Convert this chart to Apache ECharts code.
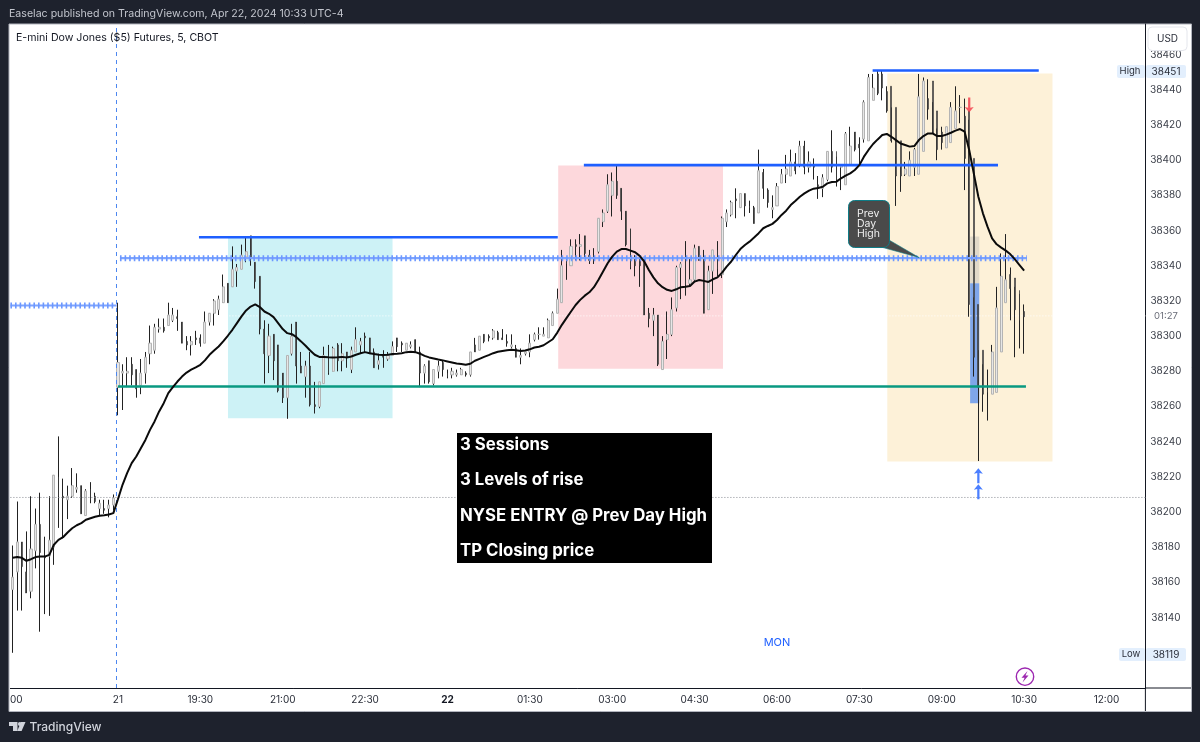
<!DOCTYPE html>
<html><head><meta charset="utf-8">
<style>html,body{margin:0;padding:0;background:#1e222d}#c{width:1200px;height:742px}</style>
<script src="https://cdn.jsdelivr.net/npm/echarts@6/dist/echarts.min.js"></script>
</head><body><div id="c"></div>
<script>
const tickLabels=["21","19:30","21:00","22:30","22","01:30","03:00","04:30","06:00","07:30","09:00","10:30","12:00"];
const opens=[38156,38166,38183,38166,38155,38178,38193,38175,38175,38180,38220,38209,38207,38209,38213,38215,38198,38213,38209,38202,38202,38202,38204,
38271,38279,38279,38284,38281,38272,38279,38290,38292,38304,38305,38306,38309,38311,38308,38297,38295,38299,38299,38296,38308,38313,38315,38319,38330,38328,38337,38338,38345,38357,38342,38334,
38304,38289,38301,38295,38279,38265,38290,38308,38283,38277,38283,38261,38260,38273,38289,38280,38295,38286,38291,38281,38291,38295,38300,38299,38291,38284,38289,38287,38289,38299,38296,38292,38294,38298,38291,38279,38286,38273,38280,38285,38279,38278,38278,38278,38279,38278,38295,38292,38301,38300,38299,38302,38299,38297,38294,38293,
38288,38290,38291,38298,38301,38300,38299,38306,38313,38319,38345,38340,38352,38351,38357,38346,38345,38348,38365,38371,38380,38388,38384,38371,38361,38345,38344,38345,38313,38309,38312,38281,38298,38301,38316,38339,38343,38330,38332,38351,38345,38315,38337,38349,38335,38365,38369,38378,38373,38381,38374,38373,38370,38393,38383,38372,38374,38387,38392,38391,
38399,38397,38408,38396,38397,38386,38384,38389,38405,38405,38396,38386,38397,38416,38409,38412,38411,38434,38449,38449,38439,38442,38430,38411,38392,38391,38396,38392,38405,38435,38445,38428,38416,38407,38410,38418,38430,38425,38428,38401,38318,38292,38270,38267,38268,38291,38319,38335,38333,38326,38314,38309];
const closes=[38163,38183,38169,38154,38179,38193,38177,38174,38184,38221,38209,38208,38209,38215,38214,38199,38212,38207,38206,38205,38201,38204,38208,
38285,38280,38280,38278,38270,38279,38288,38296,38305,38305,38303,38312,38312,38310,38296,38295,38297,38298,38296,38308,38313,38320,38321,38328,38319,38338,38339,38346,38348,38344,38331,38304,
38290,38300,38286,38269,38265,38289,38300,38283,38279,38283,38261,38260,38274,38289,38279,38293,38286,38290,38288,38292,38298,38297,38299,38290,38282,38286,38288,38289,38294,38294,38295,38296,38295,38291,38279,38283,38274,38281,38283,38281,38277,38280,38279,38281,38278,38291,38291,38300,38297,38299,38303,38298,38298,38296,38295,38288,
38289,38291,38296,38301,38301,38301,38309,38313,38321,38340,38341,38351,38351,38352,38347,38343,38344,38367,38370,38386,38388,38380,38371,38352,38339,38340,38340,38312,38310,38312,38284,38297,38301,38315,38339,38341,38329,38332,38350,38343,38313,38337,38349,38338,38367,38370,38376,38377,38381,38374,38373,38364,38394,38384,38376,38373,38385,38392,38395,38399,
38394,38408,38396,38399,38396,38385,38390,38405,38396,38387,38397,38415,38408,38406,38407,38433,38447,38441,38438,38441,38428,38411,38391,38391,38395,38400,38406,38436,38445,38429,38415,38406,38410,38419,38430,38428,38430,38401,38318,38288,38271,38267,38268,38291,38316,38334,38332,38327,38315,38309,38311];
const lows=[38120,38144,38144,38154,38151,38168,38132,38142,38141,38170,38191,38185,38196,38208,38211,38199,38198,38205,38205,38198,38199,38197,38201,
38255,38258,38271,38272,38265,38267,38273,38284,38290,38302,38302,38306,38308,38303,38296,38292,38289,38295,38294,38296,38306,38306,38312,38319,38319,38328,38328,38338,38342,38340,38327,38301,
38273,38279,38275,38268,38262,38253,38289,38273,38279,38265,38260,38256,38259,38273,38278,38280,38280,38280,38282,38279,38291,38290,38291,38290,38282,38281,38282,38286,38289,38291,38291,38292,38293,38291,38271,38273,38273,38272,38276,38277,38276,38276,38277,38278,38277,38277,38291,38292,38296,38297,38298,38298,38298,38294,38293,38288,
38284,38289,38288,38297,38298,38300,38299,38306,38313,38319,38332,38340,38343,38343,38344,38341,38341,38347,38362,38370,38368,38378,38366,38351,38338,38334,38328,38312,38305,38300,38283,38281,38287,38300,38314,38321,38323,38328,38331,38343,38313,38315,38324,38334,38333,38362,38368,38367,38373,38368,38370,38364,38370,38378,38373,38367,38374,38387,38387,38391,
38392,38396,38392,38393,38389,38378,38379,38388,38393,38385,38383,38397,38402,38405,38397,38410,38432,38435,38437,38434,38427,38410,38374,38382,38391,38394,38391,38396,38433,38423,38415,38400,38406,38409,38418,38425,38421,38383,38311,38277,38229,38257,38252,38268,38289,38312,38323,38309,38288,38293,38290];
const highs=[38181,38206,38183,38189,38209,38202,38211,38186,38209,38221,38243,38219,38215,38225,38222,38215,38213,38217,38211,38207,38207,38207,38210,
38319,38284,38288,38288,38281,38287,38291,38306,38307,38310,38310,38319,38316,38315,38308,38300,38300,38303,38301,38314,38313,38321,38323,38335,38330,38351,38341,38352,38356,38357,38342,38334,
38309,38307,38301,38295,38279,38289,38307,38308,38291,38286,38291,38274,38274,38294,38295,38294,38296,38296,38291,38294,38305,38299,38302,38299,38293,38290,38292,38291,38297,38299,38297,38296,38297,38298,38294,38284,38286,38281,38286,38286,38281,38282,38281,38282,38280,38291,38299,38300,38301,38301,38304,38303,38304,38301,38301,38295,
38293,38291,38301,38302,38305,38305,38310,38314,38327,38349,38345,38355,38355,38358,38357,38349,38350,38367,38372,38392,38393,38397,38384,38371,38361,38346,38344,38345,38316,38316,38312,38300,38314,38322,38340,38342,38354,38344,38352,38351,38349,38340,38349,38354,38368,38372,38377,38384,38381,38381,38377,38374,38406,38395,38384,38380,38387,38395,38403,38406,
38404,38411,38411,38405,38401,38391,38392,38405,38417,38402,38397,38416,38419,38416,38413,38434,38449,38449,38451,38451,38442,38430,38411,38396,38399,38405,38407,38449,38447,38446,38433,38418,38419,38419,38433,38442,38437,38435,38423,38322,38292,38284,38281,38295,38328,38347,38358,38339,38328,38324,38318];
const trend=[38174,38174.4,38174,38172.3,38173.2,38174.4,38174.7,38174.7,38175.7,38181.4,38184.2,38185.7,38188.4,38190.8,38192.5,38193.7,38195.6,38196.5,38197.3,38197.9,38198.2,38198.6,38199.4,
38207.3,38215.5,38222.1,38227.8,38231.6,38236.3,38241,38246.7,38251.5,38257.2,38261.9,38267.6,38271,38274.2,38277,38279.3,38280.9,38282.2,38283.7,38286.2,38289.4,38291.8,38294.1,38297,38300.2,38303.6,38307.4,38311.2,38314.6,38316.8,38318,38316.5,
38314,38312.7,38310.8,38307.4,38304,38301.7,38301.1,38299.4,38297,38294.5,38291.8,38289.4,38288.2,38288.2,38288,38287.9,38288,38288.2,38287.9,38288.4,38289.4,38290.3,38290.9,38290.3,38289.8,38289.4,38289.2,38289.4,38289.8,38290,38290.3,38290.9,38291.1,38290.9,38290,38288.8,38287.9,38287.3,38286.7,38286.2,38285.6,38285,38284.4,38284.1,38283.7,38284.3,38286,38287.1,38288.2,38289.2,38290.3,38291.1,38291.6,38292,38292.2,38292,
38291.6,38291.8,38292.5,38293.5,38294,38294.8,38296.5,38298.2,38302,38306.4,38310.2,38314,38317.7,38320.6,38323,38324.9,38327.8,38332,38336.7,38341.4,38345.2,38348,38349.5,38349.5,38348.6,38347.7,38345.6,38342.4,38337.6,38333.4,38330,38327.8,38326.3,38325.7,38326.6,38327.8,38328.1,38328.5,38331,38331.9,38331.4,38330.8,38332.3,38333.4,38336.1,38339.5,38342.4,38346.1,38349.5,38351.8,38353.7,38356,38358.5,38361.3,38362.6,38363.8,38366,38368.9,38371.3,38374.5,
38376.8,38379.2,38381.1,38382.7,38383.8,38384.2,38384.9,38386.8,38387.6,38387.8,38389.7,38391.2,38392.5,38394.4,38397.2,38402,38405.8,38409.2,38411.8,38414.3,38414.9,38413.3,38411.4,38409.5,38408.6,38407.7,38408,38411.4,38413.7,38415.2,38415.2,38413.7,38413.7,38414.5,38415.6,38416.8,38417.7,38416.2,38405.8,38392.5,38379.2,38369.8,38362.2,38355.6,38352.2,38350.3,38348.6,38346.5,38343.6,38340.4,38337.2];
const bars=248, firstTick=23, tickStep=18;
const categories=Array.from({length:bars},(_,i)=>{const k=(i-firstTick)/tickStep;return Number.isInteger(k)&&k>=0&&tickLabels[k]?tickLabels[k]:'';});
const wicks=opens.map((o,i)=>[o,closes[i],lows[i],highs[i]]);
const gap=['-','-','-','-'];
const upBodies=opens.map((o,i)=>closes[i]>=o?[o,closes[i],o,closes[i]]:gap);
const downBodies=opens.map((o,i)=>closes[i]<o?[o,closes[i],closes[i],o]:gap);
const boxTeal=[47.04,83.0,38356,38253.3], boxPink=[119.2,155.2,38397,38281.4], boxCream=[191.1,227.2,38449.3,38228.8];
const boxRisk=[209.2,211.2,38356.6,38330.1], boxReward=[209.2,211.2,38330.1,38261.9];
const blueLevels=[[40.7,119.1,38356.2],[124.8,215.3,38397.2],[187.9,224.2,38451]];
const greenLevel=[23.0,221.4,38271.4];
const prevHighLevels=[[-0.5,22.68,38317.4],[23.44,221.6,38344.3]];
const closeLine=38208.3, priceLine=38311.5, sessionBreak=22.68, yMin=38100, yMax=38477.4;
const redArrows=[[209,38431.4]], blueArrows=[[211,38220.6],[211,38211.5]];
const seg=(a)=>a.flatMap(s=>[[s[0],s[2]],[s[1],s[2]],[null,null]]);
const ln=(data,color,width,type,z)=>({type:'line',xAxisIndex:1,yAxisIndex:0,data,symbol:'none',silent:true,animation:false,z,connectNulls:false,lineStyle:{color,width,type:type||'solid'}});
const area=(b,color)=>[{xAxis:b[0],yAxis:b[2],itemStyle:{color,opacity:1}},{xAxis:b[1],yAxis:b[3]}];
const font='Inter';
const arrowUp='path://M4 0 L8 5 L5 4.4 L5 14 L3 14 L3 4.4 L0 5 Z';
const arrowDown='path://M4 14 L8 9 L5 9.6 L5 0 L3 0 L3 9.6 L0 9 Z';
const chart=echarts.init(document.getElementById('c'),null,{renderer:'canvas'});
chart.setOption({
 animation:false,backgroundColor:'#1e222d',
 grid:{left:10.4,right:54.6,top:24,bottom:54,containLabel:false},
 xAxis:[{type:'category',data:categories,boundaryGap:true,
   axisLine:{onZero:false,lineStyle:{color:'#131722',width:1}},axisTick:{show:false},splitLine:{show:false},
   axisLabel:{interval:(i,v)=>v!=='',margin:7,fontFamily:font,fontSize:10,color:'#2a2e39',
     formatter:v=>v==='22'?'{b|22}':v,rich:{b:{fontWeight:'bold',fontFamily:font,fontSize:10,color:'#131722'}}}},
  {type:'value',min:-0.5,max:bars-0.5,show:false}],
 yAxis:[{type:'value',position:'right',min:yMin,max:yMax,interval:20,scale:true,
   axisLine:{show:true,onZero:false,lineStyle:{color:'#131722',width:1}},axisTick:{show:false},splitLine:{show:false},
   axisLabel:{showMinLabel:false,showMaxLabel:false,align:'center',margin:20.5,fontFamily:font,fontSize:10,color:'#3a3e48',formatter:v=>String(v)}}],
 series:[
  {type:'line',xAxisIndex:1,data:[],silent:true,z:1,
   markArea:{silent:true,z:1,animation:false,data:[area(boxTeal,'#cdf2f6'),area(boxPink,'#fdd8dc'),area(boxCream,'#fdf1d8'),area(boxRisk,'#e1d9c9'),area(boxReward,'#7fa6ea')]}},
  ln([[-0.5,priceLine],[bars-0.5,priceLine]],'#ffffff',1,[1,2],1.5),
  {type:'candlestick',data:wicks,barWidth:1,animation:false,silent:true,z:2,itemStyle:{color:'#222',color0:'#222',borderColor:'#222',borderColor0:'#222',borderWidth:1}},
  {type:'candlestick',data:upBodies,barWidth:2.6,animation:false,silent:true,z:2.1,itemStyle:{color:'#e6e6e6',color0:'#e6e6e6',borderColor:'#b4b4b4',borderColor0:'#b4b4b4',borderWidth:1}},
  {type:'candlestick',data:downBodies,barWidth:1.4,animation:false,silent:true,z:2.1,itemStyle:{color:'#3c3c3c',color0:'#3c3c3c',borderColor:'#3c3c3c',borderColor0:'#3c3c3c',borderWidth:0.6}},
  ln([[-0.5,closeLine],[bars-0.5,closeLine]],'#8a8d94',1,[1,2],3),
  ln([[sessionBreak,yMin],[sessionBreak,yMax]],'#4b86f0',1,[4,4],3),
  ln(seg(prevHighLevels),'#7ea4ff',2.2,'solid',3),
  ln(seg(prevHighLevels),'#6c98ff',6,[1.6,3],3),
  ln(seg(blueLevels),'#1e5fff',2.6,'solid',3),
  ln(seg([greenLevel]),'#089981',2.6,'solid',3),
  {type:'line',data:trend,symbol:'none',silent:true,animation:false,z:4,lineStyle:{color:'#0b0b0b',width:2}},
  {type:'scatter',xAxisIndex:1,data:redArrows,symbol:arrowDown,symbolSize:[9,15],silent:true,animation:false,z:5,itemStyle:{color:'#f23645'}},
  {type:'scatter',xAxisIndex:1,data:blueArrows,symbol:arrowUp,symbolSize:[9,15],silent:true,animation:false,z:5,itemStyle:{color:'#1e5fff'}}
 ],
 graphic:[
  {type:'rect',z:-10,shape:{x:9,y:24,width:1182.5,height:687.5},style:{fill:'#fff',stroke:'#b2b5be',lineWidth:1}},
  {type:'line',z:20,shape:{x1:1145.4,y1:688,x2:1145.4,y2:711},style:{stroke:'#131722',lineWidth:1}},
  {type:'line',z:20,shape:{x1:1145.4,y1:688,x2:1191,y2:688},style:{stroke:'#131722',lineWidth:1}},
  {type:'text',z:20,x:9,y:14,style:{text:'Easelac published on TradingView.com, Apr 22, 2024 10:33 UTC-4',font:'10.6px '+font,fill:'#c3c6ce',textVerticalAlign:'middle'}},
  {type:'text',z:20,x:16,y:37.5,style:{text:'E-mini Dow Jones ($5) Futures, 5, CBOT',font:'10.6px '+font,fill:'#131722',textVerticalAlign:'middle'}},
  {type:'text',z:20,x:10,y:700,style:{text:'00',font:'10px '+font,fill:'#2a2e39',textVerticalAlign:'middle'}},
  {type:'rect',z:20,shape:{x:1148,y:27,width:39,height:23.5,r:4},style:{fill:'#fff',stroke:'#e4e6ec',lineWidth:1}},
  {type:'text',z:21,x:1167.5,y:39,style:{text:'USD',font:'10px '+font,fill:'#2a2e39',textAlign:'center',textVerticalAlign:'middle'}},
  {type:'rect',z:20,shape:{x:1117,y:65,width:28,height:13,r:2},style:{fill:'#e3effd'}},
  {type:'rect',z:20,shape:{x:1146,y:65,width:40,height:13,r:2},style:{fill:'#e3effd'}},
  {type:'text',z:21,x:1130,y:71.5,style:{text:'High',font:'9.5px '+font,fill:'#2a2e39',textAlign:'center',textVerticalAlign:'middle'}},
  {type:'text',z:21,x:1166,y:71.5,style:{text:'38451',font:'10px '+font,fill:'#2a2e39',textAlign:'center',textVerticalAlign:'middle'}},
  {type:'rect',z:20,shape:{x:1119,y:648,width:26,height:13,r:2},style:{fill:'#e3effd'}},
  {type:'rect',z:20,shape:{x:1146,y:648,width:40,height:13,r:2},style:{fill:'#e3effd'}},
  {type:'text',z:21,x:1131,y:654.5,style:{text:'Low',font:'9.5px '+font,fill:'#2a2e39',textAlign:'center',textVerticalAlign:'middle'}},
  {type:'text',z:21,x:1166,y:654.5,style:{text:'38119',font:'10px '+font,fill:'#2a2e39',textAlign:'center',textVerticalAlign:'middle'}},
  {type:'text',z:21,x:1166,y:316,style:{text:'01:27',font:'9.5px '+font,fill:'#6a6d78',textAlign:'center',textVerticalAlign:'middle'}},
  {type:'polygon',z:20,shape:{points:[[881,247],[889,240],[919,257.5]]},style:{fill:'#4a4a4a',stroke:'#0e7c86',lineWidth:0.6}},
  {type:'rect',z:21,shape:{x:848.5,y:200.5,width:41,height:47,r:6},style:{fill:'#4a4a4a',stroke:'#0e7c86',lineWidth:1}},
  {type:'text',z:22,x:857,y:224,style:{text:'Prev\nDay\nHigh',font:'10.5px '+font,fill:'#eeeeee',textVerticalAlign:'middle',lineHeight:10}},
  {type:'rect',z:20,shape:{x:457,y:433,width:255,height:130},style:{fill:'#000'}},
  {type:'text',z:21,x:460,y:444.5,style:{text:'3 Sessions',font:'bold 16.8px '+font,fill:'#fff',textVerticalAlign:'middle'}},
  {type:'text',z:21,x:460,y:480,style:{text:'3 Levels of rise',font:'bold 16.8px '+font,fill:'#fff',textVerticalAlign:'middle'}},
  {type:'text',z:21,x:460,y:515.5,style:{text:'NYSE ENTRY @ Prev Day High',font:'bold 16.8px '+font,fill:'#fff',textVerticalAlign:'middle'}},
  {type:'text',z:21,x:460,y:551,style:{text:'TP Closing price',font:'bold 16.8px '+font,fill:'#fff',textVerticalAlign:'middle'}},
  {type:'text',z:21,x:777,y:642.5,style:{text:'MON',font:'11px '+font,fill:'#1e5fff',textAlign:'center',textVerticalAlign:'middle'}},
  {type:'circle',z:21,shape:{cx:1025,cy:676.7,r:8.7},style:{fill:'#fff',stroke:'#9c27b0',lineWidth:1.4}},
  {type:'polygon',z:22,shape:{points:[[1027.5,671],[1021.5,677.8],[1024.6,677.8],[1022.5,682.4],[1028.5,675.6],[1025.4,675.6]]},style:{fill:'#9c27b0'}},
  {type:'polygon',z:21,shape:{points:[[9,722],[17.5,722],[17.5,731],[13,731],[13,726],[9,726]]},style:{fill:'#d1d4dc'}},
  {type:'circle',z:21,shape:{cx:19.9,cy:724,r:2},style:{fill:'#d1d4dc'}},
  {type:'polygon',z:21,shape:{points:[[21,722],[25.5,722],[21.6,731],[17.2,731]]},style:{fill:'#d1d4dc'}},
  {type:'text',z:21,x:29.5,y:727,style:{text:'TradingView',font:'500 12px '+font,fill:'#d1d4dc',textVerticalAlign:'middle'}}
 ]
});
</script></body></html>
